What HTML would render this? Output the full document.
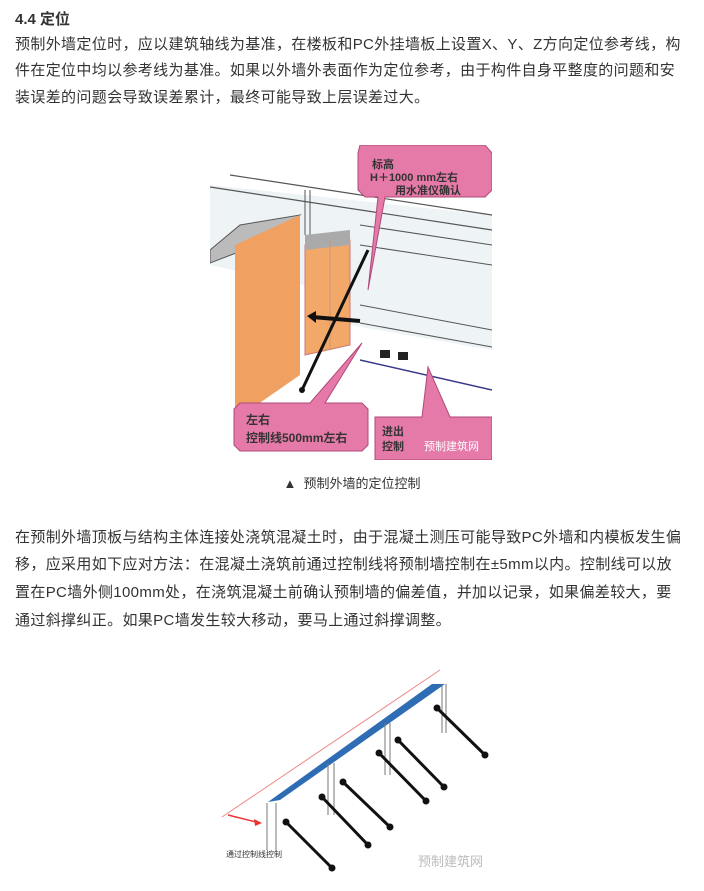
<!DOCTYPE html>
<html><head><meta charset="utf-8"><style>
body{margin:0;background:#fff;width:704px;height:891px;overflow:hidden;font-family:"Liberation Sans","Noto Sans CJK SC",sans-serif;color:#333;}
.l{position:absolute;left:15px;font-size:15px;white-space:nowrap;line-height:20px;}
.h{position:absolute;left:15px;top:8px;font-size:15px;font-weight:bold;}
svg{position:absolute;}
</style></head><body>
<div class="h">4.4 定位</div>
<div class="l" style="top:35px;letter-spacing:0.35px">预制外墙定位时，应以建筑轴线为基准，在楼板和PC外挂墙板上设置X、Y、Z方向定位参考线，构</div>
<div class="l" style="top:61px;letter-spacing:0.35px">件在定位中均以参考线为基准。如果以外墙外表面作为定位参考，由于构件自身平整度的问题和安</div>
<div class="l" style="top:88px;letter-spacing:0.35px">装误差的问题会导致误差累计，最终可能导致上层误差过大。</div>

<svg style="left:210px;top:145px" width="282" height="315" viewBox="0 0 282 315">
<rect width="282" height="315" fill="#fff"/>
<polygon points="0,40 282,70 282,205 140,180 140,150 0,120" fill="#eef3f6"/>
<line x1="20" y1="30" x2="282" y2="70" stroke="#555" stroke-width="1.2"/>
<line x1="0" y1="42" x2="282" y2="85" stroke="#555" stroke-width="1.2"/>
<line x1="150" y1="80" x2="282" y2="100" stroke="#555"/>
<line x1="150" y1="100" x2="282" y2="120" stroke="#555"/>
<line x1="150" y1="160" x2="282" y2="185" stroke="#555"/>
<line x1="150" y1="178" x2="282" y2="202" stroke="#555"/>
<line x1="95" y1="45" x2="95" y2="90" stroke="#555"/><line x1="100" y1="45" x2="100" y2="90" stroke="#555"/>
<line x1="150" y1="215" x2="282" y2="245" stroke="#3a3a8a" stroke-width="1.5"/>
<polygon points="0,105 30,80 90,70 60,95 0,118" fill="#bbb" stroke="#555"/>
<polygon points="25,100 90,70 90,230 25,275" fill="#f0a060"/>
<polygon points="95,100 140,95 140,200 95,210" fill="#f2a868" stroke="#c77"/>
<polygon points="95,90 140,85 140,100 95,105" fill="#aaa"/>
<line x1="120" y1="95" x2="120" y2="205" stroke="#c97"/>
<line x1="158" y1="105" x2="92" y2="245" stroke="#111" stroke-width="3"/>
<circle cx="92" cy="245" r="3" fill="#111"/>
<line x1="102" y1="172" x2="150" y2="176" stroke="#111" stroke-width="4"/>
<polygon points="97,171 106,166 106,178" fill="#111"/>
<rect x="170" y="205" width="10" height="8" fill="#222"/><rect x="188" y="207" width="10" height="8" fill="#222"/>
<polygon points="150,0 275,0 282,8 282,45 275,52 175,52 158,145 168,52 155,52 148,45 148,8" fill="#e579a8" stroke="#b04a7a"/>
<text x="162" y="23" font-size="11" font-weight="bold" fill="#333">标高</text>
<text x="160" y="36" font-size="11" font-weight="bold" fill="#333">H＋1000 mm左右</text>
<text x="185" y="49" font-size="11" font-weight="bold" fill="#333">用水准仪确认</text>
<polygon points="30,258 100,258 152,198 115,258 152,258 158,264 158,300 152,306 30,306 24,300 24,264" fill="#e579a8" stroke="#b04a7a"/>
<text x="36" y="279" font-size="12" font-weight="bold" fill="#333">左右</text>
<text x="36" y="297" font-size="12" font-weight="bold" fill="#333">控制线500mm左右</text>
<polygon points="165,272 212,272 218,222 240,272 282,272 282,315 165,315" fill="#e579a8" stroke="#b04a7a"/>
<text x="172" y="290" font-size="11" font-weight="bold" fill="#333">进出</text>
<text x="172" y="305" font-size="11" font-weight="bold" fill="#333">控制</text>
<text x="214" y="305" font-size="11" fill="#fff">预制建筑网</text>
</svg>
<div style="position:absolute;left:0;width:704px;top:473px;text-align:center;font-size:13px;color:#333">▲&nbsp; 预制外墙的定位控制</div>

<div class="l" style="top:528px;letter-spacing:0.35px">在预制外墙顶板与结构主体连接处浇筑混凝土时，由于混凝土测压可能导致PC外墙和内模板发生偏</div>
<div class="l" style="top:555px;letter-spacing:0.35px">移，应采用如下应对方法：在混凝土浇筑前通过控制线将预制墙控制在±5mm以内。控制线可以放</div>
<div class="l" style="top:583px;letter-spacing:0.35px">置在PC墙外侧100mm处，在浇筑混凝土前确认预制墙的偏差值，并加以记录，如果偏差较大，要</div>
<div class="l" style="top:611px;letter-spacing:0.35px">通过斜撑纠正。如果PC墙发生较大移动，要马上通过斜撑调整。</div>

<svg style="left:200px;top:660px" width="300" height="230" viewBox="0 0 300 230">
<line x1="22" y1="157" x2="240" y2="10" stroke="#e88" stroke-width="1"/>
<line x1="28" y1="155" x2="60" y2="163" stroke="#e33" stroke-width="1.5"/><polygon points="62,163 54,159 55,166" fill="#e33"/>
<polygon points="68,142 80,140 245,24 232,24" fill="#2e6db4"/>
<g stroke="#777" stroke-width="1">
<line x1="67" y1="143" x2="67" y2="190"/><line x1="76" y1="143" x2="76" y2="190"/>
<line x1="128" y1="103" x2="128" y2="155"/><line x1="134" y1="103" x2="134" y2="155"/>
<line x1="185" y1="63" x2="185" y2="115"/><line x1="190" y1="63" x2="190" y2="115"/>
<line x1="242" y1="24" x2="242" y2="73"/><line x1="246" y1="24" x2="246" y2="73"/>
</g>
<g stroke="#111" stroke-width="3">
<line x1="86" y1="162" x2="132" y2="208"/><line x1="122" y1="137" x2="168" y2="185"/>
<line x1="143" y1="122" x2="190" y2="167"/><line x1="179" y1="93" x2="226" y2="141"/>
<line x1="198" y1="80" x2="244" y2="127"/><line x1="237" y1="48" x2="285" y2="95"/>
</g>
<g fill="#111">
<circle cx="86" cy="162" r="3.5"/><circle cx="132" cy="208" r="3.5"/><circle cx="122" cy="137" r="3.5"/><circle cx="168" cy="185" r="3.5"/>
<circle cx="143" cy="122" r="3.5"/><circle cx="190" cy="167" r="3.5"/><circle cx="179" cy="93" r="3.5"/><circle cx="226" cy="141" r="3.5"/>
<circle cx="198" cy="80" r="3.5"/><circle cx="244" cy="127" r="3.5"/><circle cx="237" cy="48" r="3.5"/><circle cx="285" cy="95" r="3.5"/>
</g>
<text x="26" y="197" font-size="8" fill="#333">通过控制线控制</text>
<text x="218" y="206" font-size="13" fill="#bbb">预制建筑网</text>
</svg>
</body></html>
